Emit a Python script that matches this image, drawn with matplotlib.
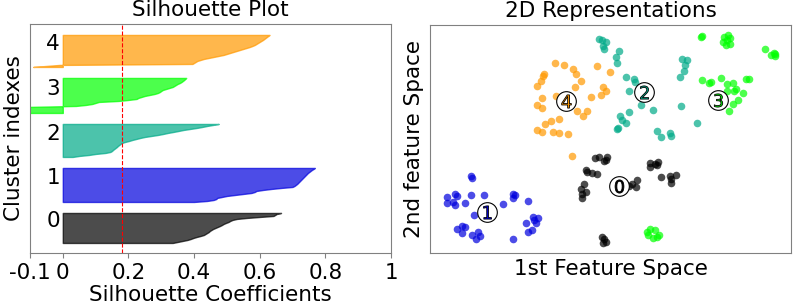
import matplotlib.pyplot as plt
from matplotlib import cm
import numpy as np

FONT_SIZE = 15.5
plt.rc('font', size=FONT_SIZE)
plt.rc('axes', titlesize=FONT_SIZE, labelsize=FONT_SIZE, edgecolor='0.5')
plt.rc('xtick', labelsize=FONT_SIZE, color='0.5', labelcolor='k')
plt.rc('ytick', labelsize=FONT_SIZE, color='0.5', labelcolor='k')

n_clusters = 5
avg_score = 0.18

# sorted silhouette values per cluster (bottom to top)
sil_0 = [0.335, 0.35, 0.365, 0.38, 0.39, 0.398, 0.408, 0.42, 0.43, 0.435,
         0.44, 0.445, 0.448, 0.453, 0.458, 0.465, 0.472, 0.479, 0.485, 0.49,
         0.497, 0.505, 0.51, 0.517, 0.53, 0.56, 0.6, 0.642, 0.647, 0.652, 0.665]
sil_1 = [0.40, 0.44, 0.46, 0.468, 0.47, 0.485, 0.50, 0.525, 0.55, 0.575,
         0.585, 0.59, 0.61, 0.635, 0.665, 0.70, 0.706, 0.71, 0.714, 0.717,
         0.72, 0.723, 0.726, 0.729, 0.732, 0.735, 0.738, 0.741, 0.744, 0.747,
         0.751, 0.755, 0.759, 0.764, 0.768]
sil_2 = [0.03, 0.05, 0.08, 0.10, 0.13, 0.145, 0.15, 0.153, 0.157, 0.161,
         0.165, 0.168, 0.172, 0.176, 0.18, 0.19, 0.202, 0.212, 0.224, 0.236,
         0.25, 0.27, 0.29, 0.306, 0.32, 0.337, 0.353, 0.368, 0.388, 0.408,
         0.425, 0.44, 0.458, 0.475]
sil_3 = [-0.13, -0.13, -0.13, -0.12, -0.12, -0.12, -0.11,
         0.04, 0.07, 0.09, 0.10, 0.11, 0.17, 0.20, 0.225, 0.23, 0.24,
         0.25, 0.265, 0.28, 0.29, 0.296, 0.30, 0.305, 0.315, 0.325, 0.335,
         0.34, 0.345, 0.35, 0.357, 0.362, 0.366, 0.37, 0.373, 0.376]
sil_4 = [-0.09, -0.05, -0.01,
         0.395, 0.40, 0.405, 0.41, 0.42, 0.43, 0.445, 0.46, 0.475, 0.49,
         0.50, 0.51, 0.52, 0.53, 0.54, 0.55, 0.56, 0.57, 0.578, 0.585,
         0.59, 0.595, 0.60, 0.605, 0.61, 0.614, 0.618, 0.622, 0.626, 0.63]
sil_values = [sil_0, sil_1, sil_2, sil_3, sil_4]

# 2D points per cluster (x, y)
pts_0_x = [165.0, 169.3, 174.3, 177.0, 175.7, 156.3, 156.7, 161.7, 167.3, 154.0,
           150.7, 156.3, 151.7, 152.0, 220.0, 220.0, 224.7, 228.0, 226.7, 230.7,
           240.0, 241.0, 241.0, 245.7, 198.7, 207.3, 205.7, 201.7, 172.0, 172.7,
           176.3, 174.3]
pts_0_y = [95.3, 95.7, 92.0, 95.7, 93.3, 83.3, 80.7, 80.3, 78.7, 68.7,
           63.7, 61.0, 58.7, 54.7, 89.7, 86.0, 88.7, 91.0, 88.0, 76.3,
           77.0, 73.7, 70.0, 77.7, 66.7, 73.3, 66.3, 69.3, 16.0, 9.7,
           11.3, 13.7]
pts_1_x = [41.3, 41.7, 17.3, 25.0, 27.3, 16.7, 22.7, 24.7, 35.0, 40.7,
           53.7, 82.7, 84.7, 83.3, 72.7, 97.7, 43.7, 102.7, 104.0, 107.7,
           96.0, 106.0, 102.0, 98.3, 27.3, 32.0, 35.3, 31.7, 41.7, 48.3,
           50.0, 46.3, 83.3]
pts_1_y = [77.3, 74.7, 55.7, 59.0, 57.0, 50.3, 50.7, 47.7, 50.0, 58.0,
           57.7, 59.3, 57.7, 55.0, 49.0, 52.3, 37.7, 35.7, 33.3, 35.3,
           30.0, 30.0, 23.3, 20.7, 23.7, 27.0, 26.0, 19.7, 18.0, 21.3,
           16.7, 13.7, 13.7]
pts_2_x = [169.3, 172.0, 176.0, 172.7, 174.0, 189.0, 186.0, 186.7, 196.0, 204.0,
           204.7, 198.7, 211.0, 223.0, 199.3, 190.0, 192.3, 195.7, 187.3, 188.3,
           226.7, 231.3, 240.0, 241.0, 251.7, 256.7, 255.0, 254.0, 250.0, 251.0,
           267.0]
pts_2_y = [214.0, 213.0, 210.7, 207.3, 203.7, 202.3, 195.7, 190.0, 176.0, 174.0,
           171.3, 161.7, 147.7, 143.0, 140.7, 137.0, 133.0, 130.0, 124.0, 125.3,
           121.7, 116.3, 119.7, 117.0, 194.3, 193.3, 187.7, 181.7, 176.3, 147.0,
           130.3]
pts_3_x = [216.7, 220.0, 225.0, 228.7, 226.7, 222.7, 218.3, 271.7, 271.0, 294.3,
           297.7, 300.0, 292.7, 295.7, 300.3, 296.7, 334.7, 341.0, 344.7, 345.3,
           344.0, 272.0, 279.3, 281.0, 291.0, 296.7, 303.0, 316.0, 318.7, 296.7,
           303.7, 306.0, 313.0, 307.7, 303.3, 299.3]
pts_3_y = [20.7, 24.0, 22.7, 18.0, 15.7, 14.7, 18.0, 217.0, 216.0, 216.3,
           218.0, 214.7, 210.7, 208.3, 209.3, 213.0, 203.7, 197.7, 199.0, 196.7,
           200.0, 173.3, 170.0, 171.3, 174.7, 169.0, 170.3, 174.0, 174.0, 162.0,
           161.7, 163.7, 160.3, 152.7, 149.3, 142.0]
pts_4_x = [124.7, 113.7, 113.0, 111.3, 106.7, 112.3, 125.7, 107.0, 111.7, 120.7,
           115.3, 128.7, 107.0, 112.0, 122.7, 129.3, 134.0, 143.0, 145.7, 151.0,
           145.0, 166.7, 180.0, 173.3, 175.7, 170.7, 160.7, 146.7, 156.7, 153.0,
           138.0, 142.0]
pts_4_y = [190.0, 179.3, 177.3, 172.0, 167.3, 155.3, 157.3, 148.0, 145.3, 132.3,
           128.7, 134.3, 123.0, 121.3, 121.0, 119.7, 187.7, 184.3, 178.7, 172.0,
           166.0, 187.3, 181.3, 166.3, 162.0, 158.3, 155.7, 142.3, 142.3, 137.3,
           118.7, 97.3]
pts_x = [pts_0_x, pts_1_x, pts_2_x, pts_3_x, pts_4_x]
pts_y = [pts_0_y, pts_1_y, pts_2_y, pts_3_y, pts_4_y]

centers_x = [189.3, 57.3, 214.0, 287.7, 136.0]
centers_y = [67.3, 41.0, 160.7, 153.3, 152.0]

fig = plt.figure(figsize=(7.97, 3.07), dpi=100)
ax1 = fig.add_axes([0.0376, 0.176, 0.453, 0.746])
ax2 = fig.add_axes([0.5395, 0.176, 0.453, 0.743])

# silhouette plot
y_lower = 10
for i in range(n_clusters):
    vals = np.array(sil_values[i])
    size_i = len(vals)
    y_upper = y_lower + size_i
    color = cm.nipy_spectral(float(i) / n_clusters)
    ax1.fill_betweenx(np.arange(y_lower, y_upper), 0, vals,
                      facecolor=color, edgecolor=color, alpha=0.7)
    ax1.text(-0.05, y_lower + 0.5 * size_i, str(i))
    y_lower = y_upper + 10

n_total = sum(len(v) for v in sil_values)
ax1.set_xlim([-0.1, 1])
ax1.set_ylim([0, n_total + (n_clusters + 1) * 10])
ax1.axvline(x=avg_score, color='red', linestyle='--', linewidth=0.8)
ax1.set_yticks([])
ax1.set_xticks([-0.1, 0, 0.2, 0.4, 0.6, 0.8, 1])
ax1.set_xticklabels(['-0.1', '0', '0.2', '0.4', '0.6', '0.8', '1'])
ax1.set_title('Silhouette Plot')
ax1.set_xlabel('Silhouette Coefficients', labelpad=2)
ax1.set_ylabel('Cluster indexes')

# 2D representation
for i in range(n_clusters):
    color = cm.nipy_spectral(float(i) / n_clusters)
    ax2.scatter(pts_x[i], pts_y[i], marker='o', s=30, lw=0, alpha=0.7, color=color)

ax2.scatter(centers_x, centers_y, marker='o', c='white', alpha=1, s=200,
            edgecolor='k', linewidths=0.8)
for i in range(n_clusters):
    color = cm.nipy_spectral(float(i) / n_clusters)
    ax2.scatter(centers_x[i], centers_y[i], marker='$%d$' % i, s=90,
                color=color, edgecolor='k', linewidths=0.6)

ax2.set_xlim([0, 361])
ax2.set_ylim([0, 228])
ax2.set_xticks([])
ax2.set_yticks([])
ax2.set_title('2D Representations')
ax2.set_xlabel('1st Feature Space')
ax2.set_ylabel('2nd feature Space')

plt.savefig('out.png', dpi=100)
